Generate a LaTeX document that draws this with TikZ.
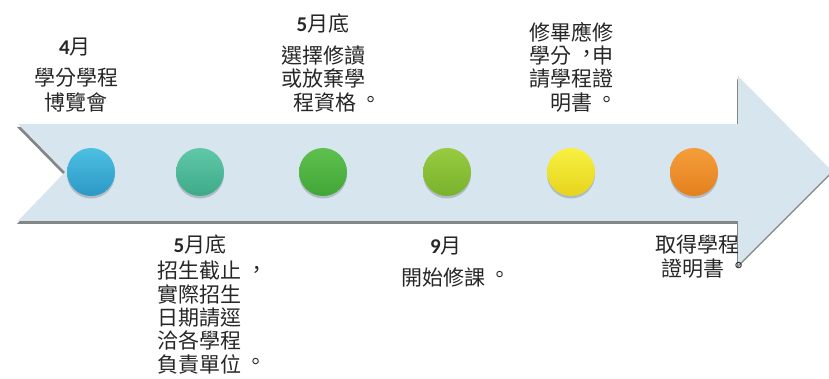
\documentclass[tikz,border=0pt]{standalone}
\usepackage{fontspec}
\newfontfamily\cjk{Noto Sans CJK TC}
\newfontfamily\digitfont{Carlito}
\newcommand{\dg}[1]{{\digitfont\bfseries #1}}
\newcommand{\zstop}{\makebox[1em][l]{\hspace{0.2em}\raisebox{0.14em}{。}}}
\newcommand{\zcomma}{\makebox[1em][l]{\hspace{0.27em}\raisebox{0.08em}{，}}}
\definecolor{arrowfill}{HTML}{D7E5EF}
\definecolor{txtcol}{HTML}{262626}
\definecolor{c1t}{HTML}{4CC0E2}\definecolor{c1b}{HTML}{2C98C6}
\definecolor{c2t}{HTML}{60C8A8}\definecolor{c2b}{HTML}{3DAA88}
\definecolor{c3t}{HTML}{5EC14F}\definecolor{c3b}{HTML}{41A637}
\definecolor{c4t}{HTML}{98CB40}\definecolor{c4b}{HTML}{78B22C}
\definecolor{c5t}{HTML}{F8F040}\definecolor{c5b}{HTML}{E6D41E}
\definecolor{c6t}{HTML}{F49E3A}\definecolor{c6b}{HTML}{E4801E}
\begin{document}
\begin{tikzpicture}[x=1pt,y=-1pt,
  txt/.style={font=\cjk\fontsize{21}{23.3}\selectfont, text=txtcol, inner sep=0pt, align=center},
  dot/.style={circle, minimum size=48pt, inner sep=0pt, draw=none},
  dotshadow/.style={circle, minimum size=48pt, inner sep=0pt, fill=black, opacity=0.18}]
\useasboundingbox (0,0) rectangle (829,379);
% arrow shadow
\fill[black!48] (17,127) -- (737,127) -- (737,79) -- (831,174) -- (737,268) -- (737,224) -- (17,224) -- (64,175) -- cycle;
% arrow
\fill[arrowfill] (18,124) -- (738,124) -- (738,76) -- (832,171) -- (738,265) -- (738,221) -- (18,221) -- (65,172) -- cycle;
% circles
\foreach \x in {91,200,323,447,571,694}{
  \node[dotshadow] at (\x,174.5) {};
}
\node[dot, top color=c1t, bottom color=c1b] (c1) at (91,172) {};
\node[dot, top color=c2t, bottom color=c2b] (c2) at (200,172) {};
\node[dot, top color=c3t, bottom color=c3b] (c3) at (323,172) {};
\node[dot, top color=c4t, bottom color=c4b] (c4) at (447,172) {};
\node[dot, top color=c5t, bottom color=c5b] (c5) at (571,172) {};
\node[dot, top color=c6t, bottom color=c6b] (c6) at (694,172) {};
% top texts
\node[txt] (d1) at (75,47) {\dg{4}月};
\node[txt, font=\cjk\fontsize{21}{25}\selectfont] (t1) at (76,90.5) {學分學程\\博覽會};
\node[txt] (d3) at (323,24) {\dg{5}月底};
\node[txt] (t3) at (323,79) {選擇修讀\\或放棄學\\\hspace*{24pt}程資格\zstop};
\node[txt] (t5) at (571,67) {修畢應修\\學分\zcomma 申\\請學程證\\\hspace*{21pt}明書\zstop};
% bottom texts
\node[txt] (d2) at (200,245) {\dg{5}月底};
\node[txt, align=left, anchor=west] (t2) at (157,317.5) {招生截止\zcomma\\實際招生\\日期請逕\\洽各學程\\負責單位\zstop};
\node[txt] (d4) at (446,246) {\dg{9}月};
\node[txt] (t4) at (454,277) {開始修課\zstop};
\node[txt] (t6) at (697,256.5) {取得學程\\\hspace*{12pt}證明書\zstop};
\end{tikzpicture}
\end{document}
